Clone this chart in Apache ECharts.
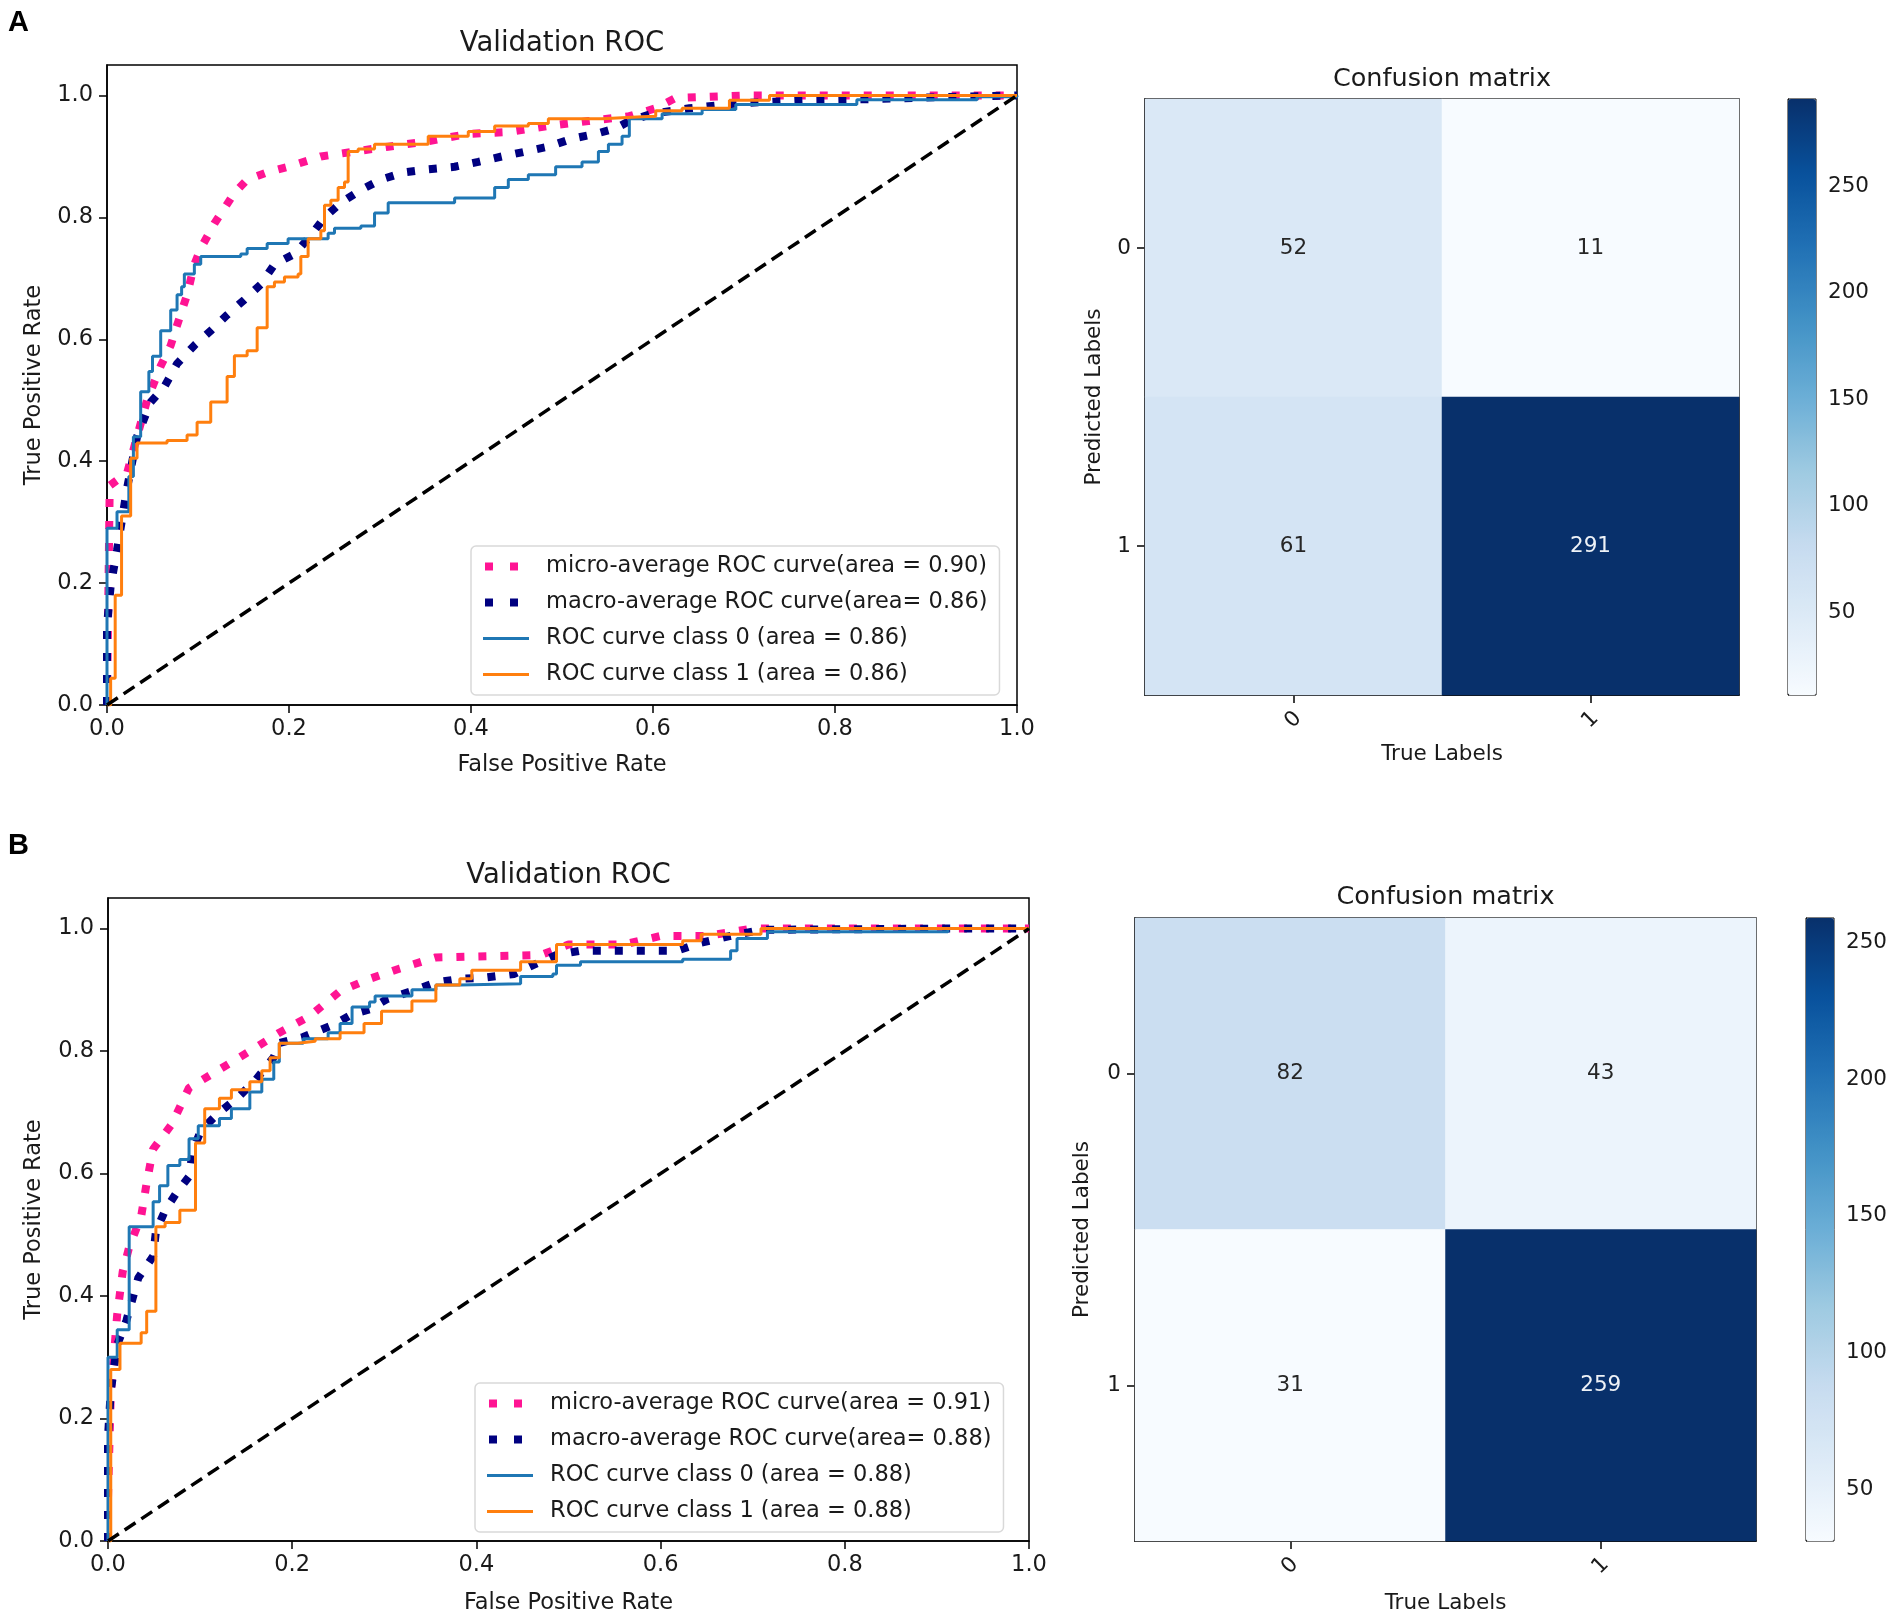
<!DOCTYPE html>
<html>
<head>
<meta charset="utf-8">
<script src="https://cdn.jsdelivr.net/npm/echarts@6/dist/echarts.min.js"></script>
<style>
    html, body { margin: 0; background: #fff; }
    #chart { width: 1902px; height: 1622px; }
</style>
</head>
<body>
<div id="chart"></div>
<script>
// ---- data ----
const fprTicks = [ 0, 0.2, 0.4, 0.6, 0.8, 1.0 ];
const tprTicks = [ 0, 0.2, 0.4, 0.6, 0.8, 1.0 ];
const cmLabels = [ '0', '1' ];

// panel A
const microA_fpr = [ 0, 0.003, 0.012, 0.022, 0.033, 0.044, 0.059, 0.07, 0.077, 0.088, 0.096, 0.103, 0.118, 0.129, 0.14, 0.154, 0.176, 0.199, 0.235, 0.272, 0.309, 0.353, 0.397, 0.441, 0.485, 0.529, 0.574, 0.603, 0.625, 0.7, 1.0 ];
const microA_tpr = [ 0, 0.36, 0.37, 0.38, 0.44, 0.5, 0.556, 0.59, 0.623, 0.673, 0.723, 0.749, 0.79, 0.815, 0.84, 0.862, 0.874, 0.883, 0.9, 0.908, 0.916, 0.925, 0.937, 0.94, 0.95, 0.958, 0.966, 0.979, 0.996, 1.0, 1.0 ];
const macroA_fpr = [ 0, 0, 0.004, 0.011, 0.022, 0.033, 0.048, 0.063, 0.077, 0.096, 0.114, 0.132, 0.151, 0.169, 0.184, 0.206, 0.224, 0.239, 0.257, 0.279, 0.301, 0.327, 0.353, 0.382, 0.408, 0.434, 0.46, 0.485, 0.511, 0.537, 0.559, 0.574, 0.599, 0.64, 0.691, 0.765, 0.838, 0.912, 1.0 ];
const macroA_tpr = [ 0, 0.13, 0.195, 0.254, 0.355, 0.44, 0.497, 0.522, 0.56, 0.59, 0.614, 0.64, 0.665, 0.69, 0.723, 0.74, 0.77, 0.8, 0.824, 0.845, 0.862, 0.874, 0.879, 0.883, 0.891, 0.9, 0.908, 0.916, 0.929, 0.937, 0.946, 0.958, 0.97, 0.979, 0.987, 0.992, 0.994, 0.997, 1.0 ];
const class0A_fpr = [ 0, 0, 0.011, 0.024, 0.029, 0.037, 0.046, 0.05, 0.059, 0.07, 0.077, 0.082, 0.085, 0.096, 0.103, 0.147, 0.154, 0.176, 0.199, 0.243, 0.25, 0.279, 0.294, 0.309, 0.382, 0.426, 0.441, 0.463, 0.493, 0.522, 0.54, 0.551, 0.566, 0.574, 0.61, 0.654, 0.691, 0.824, 0.956, 1.0 ];
const class0A_tpr = [ 0, 0.29, 0.317, 0.375, 0.44, 0.514, 0.547, 0.572, 0.614, 0.648, 0.673, 0.686, 0.707, 0.723, 0.736, 0.74, 0.749, 0.757, 0.765, 0.774, 0.782, 0.786, 0.807, 0.824, 0.832, 0.849, 0.862, 0.87, 0.883, 0.891, 0.908, 0.92, 0.933, 0.962, 0.97, 0.977, 0.985, 0.993, 0.998, 1.0 ];
const class1A_fpr = [ 0, 0.004, 0.009, 0.016, 0.026, 0.033, 0.066, 0.088, 0.099, 0.114, 0.132, 0.14, 0.154, 0.165, 0.176, 0.184, 0.195, 0.21, 0.213, 0.221, 0.235, 0.239, 0.246, 0.254, 0.261, 0.265, 0.276, 0.294, 0.353, 0.397, 0.426, 0.463, 0.485, 0.544, 0.588, 0.603, 0.632, 0.684, 0.728, 1.0 ];
const class1A_tpr = [ 0, 0.044, 0.18, 0.31, 0.405, 0.43, 0.434, 0.443, 0.464, 0.497, 0.539, 0.573, 0.581, 0.619, 0.686, 0.694, 0.702, 0.707, 0.736, 0.765, 0.778, 0.82, 0.828, 0.849, 0.858, 0.908, 0.912, 0.92, 0.933, 0.941, 0.95, 0.954, 0.962, 0.965, 0.966, 0.975, 0.979, 0.992, 1.0, 1.0 ];
const namesA = [
    'micro-average ROC curve(area = 0.90)',
    'macro-average ROC curve(area= 0.86)',
    'ROC curve class 0 (area = 0.86)',
    'ROC curve class 1 (area = 0.86)',
];
const cmA = [ [ 52, 11 ], [ 61, 291 ] ];
const cbTicksA = [ 50, 100, 150, 200, 250 ];

// panel B
const microB_fpr = [ 0, 0, 0.003, 0.01, 0.016, 0.023, 0.036, 0.042, 0.049, 0.069, 0.088, 0.121, 0.154, 0.186, 0.219, 0.252, 0.284, 0.317, 0.356, 0.47, 0.5, 0.56, 0.6, 0.65, 0.7, 1.0 ];
const microB_tpr = [ 0, 0.07, 0.24, 0.37, 0.44, 0.48, 0.53, 0.585, 0.64, 0.68, 0.74, 0.77, 0.8, 0.83, 0.857, 0.898, 0.918, 0.935, 0.953, 0.957, 0.974, 0.974, 0.988, 0.988, 1.0, 1.0 ];
const macroB_fpr = [ 0, 0, 0.003, 0.01, 0.02, 0.033, 0.049, 0.052, 0.062, 0.075, 0.088, 0.092, 0.101, 0.121, 0.14, 0.16, 0.18, 0.186, 0.212, 0.245, 0.265, 0.284, 0.303, 0.33, 0.356, 0.382, 0.408, 0.441, 0.461, 0.487, 0.513, 0.618, 0.644, 0.676, 0.709, 0.905, 1.0 ];
const macroB_tpr = [ 0, 0.17, 0.245, 0.32, 0.36, 0.43, 0.465, 0.505, 0.54, 0.57, 0.595, 0.637, 0.671, 0.7, 0.723, 0.752, 0.79, 0.813, 0.823, 0.843, 0.86, 0.868, 0.885, 0.898, 0.912, 0.918, 0.92, 0.926, 0.94, 0.957, 0.964, 0.964, 0.977, 0.988, 0.998, 1.0, 1.0 ];
const class0B_fpr = [ 0, 0, 0.01, 0.023, 0.049, 0.056, 0.065, 0.078, 0.088, 0.098, 0.121, 0.134, 0.154, 0.167, 0.18, 0.186, 0.212, 0.239, 0.252, 0.265, 0.284, 0.29, 0.33, 0.356, 0.382, 0.448, 0.483, 0.487, 0.513, 0.624, 0.676, 0.683, 0.716, 0.912, 1.0 ];
const class0B_tpr = [ 0, 0.3, 0.345, 0.513, 0.554, 0.58, 0.613, 0.623, 0.657, 0.678, 0.69, 0.706, 0.733, 0.754, 0.782, 0.813, 0.82, 0.83, 0.845, 0.872, 0.88, 0.89, 0.9, 0.908, 0.91, 0.922, 0.926, 0.94, 0.946, 0.95, 0.964, 0.984, 0.995, 1.0, 1.0 ];
const class1B_fpr = [ 0, 0.003, 0.013, 0.036, 0.042, 0.052, 0.062, 0.078, 0.095, 0.105, 0.121, 0.134, 0.154, 0.167, 0.176, 0.186, 0.206, 0.225, 0.252, 0.278, 0.297, 0.33, 0.356, 0.382, 0.395, 0.448, 0.487, 0.624, 0.644, 0.709, 1.0 ];
const class1B_tpr = [ 0, 0.28, 0.323, 0.34, 0.375, 0.513, 0.52, 0.54, 0.65, 0.706, 0.723, 0.737, 0.75, 0.768, 0.789, 0.813, 0.816, 0.82, 0.83, 0.845, 0.865, 0.882, 0.908, 0.918, 0.932, 0.946, 0.974, 0.98, 0.991, 1.0, 1.0 ];
const namesB = [
    'micro-average ROC curve(area = 0.91)',
    'macro-average ROC curve(area= 0.88)',
    'ROC curve class 0 (area = 0.88)',
    'ROC curve class 1 (area = 0.88)',
];
const cmB = [ [ 82, 43 ], [ 31, 259 ] ];
const cbTicksB = [ 50, 100, 150, 200, 250 ];

// ---- styling ----
const FONT = 'DejaVu Sans';
const TXT = '#1a1a1a';
const BLUES = [ '#f7fbff', '#deebf7', '#c6dbef', '#9ecae1', '#6baed6', '#4292c6', '#2171b5', '#08519c', '#08306b' ];
const lineColors = [ '#ff1493', '#000080', '#1f77b4', '#ff7f0e' ];
const dotted = { width: 8, type: [ 8, 14 ], cap: 'butt' };
const dottedIcon = { width: 8, type: [ 8, 17 ], dashOffset: -2, cap: 'butt' };
const solid = { width: 3, type: 'solid' };
const ROC_FS = 22.5;
const CM_FS = 21.5;

const zip = ( xs, ys ) => xs.map( ( x, i ) => [ x, ys[ i ] ] );

const panels = [
    {
        label: 'A', labelTop: 8,
        roc: { left: 107, top: 65, width: 910, height: 640 },
        rocTitleTop: 30, rocNameGapX: 49, rocNameGapY: 61,
        legend: { left: 471, top: 546 },
        cm: { left: 1145, top: 99, width: 594, height: 596 },
        cmTitleTop: 66, cmNameGapX: 48, cmNameGapY: 40,
        cb: { left: 1788, top: 99, width: 28, height: 596 },
        curves: [ [ microA_fpr, microA_tpr ], [ macroA_fpr, macroA_tpr ], [ class0A_fpr, class0A_tpr ], [ class1A_fpr, class1A_tpr ] ],
        names: namesA, matrix: cmA, cbTicks: cbTicksA,
    },
    {
        label: 'B', labelTop: 831,
        roc: { left: 108, top: 898, width: 921, height: 643 },
        rocTitleTop: 862, rocNameGapX: 51, rocNameGapY: 62,
        legend: { left: 475, top: 1383 },
        cm: { left: 1135, top: 918, width: 621, height: 623 },
        cmTitleTop: 884, cmNameGapX: 51, cmNameGapY: 42,
        cb: { left: 1806, top: 918, width: 28, height: 623 },
        curves: [ [ microB_fpr, microB_tpr ], [ macroB_fpr, macroB_tpr ], [ class0B_fpr, class0B_tpr ], [ class1B_fpr, class1B_tpr ] ],
        names: namesB, matrix: cmB, cbTicks: cbTicksB,
    },
];

const option = {
    backgroundColor: '#fff',
    animation: false,
    title: [],
    grid: [],
    xAxis: [],
    yAxis: [],
    legend: [],
    visualMap: [],
    series: [],
};

const axisBase = ( fs ) => ( {
    axisLine: { show: true, onZero: false, lineStyle: { color: '#000', width: 1.5 } },
    axisTick: { show: true, length: 8, lineStyle: { color: '#000', width: 1.5 } },
    axisLabel: { color: TXT, fontSize: fs, fontFamily: FONT },
    splitLine: { show: false },
    nameTextStyle: { color: TXT, fontSize: fs, fontFamily: FONT },
} );
const rocBase = axisBase( ROC_FS );
const cmBase = axisBase( CM_FS );

panels.forEach( ( p ) => {
    const g = option.grid.length;
    const gridStyle = { show: true, borderColor: '#000', borderWidth: 1.5, containLabel: false };
    option.grid.push( Object.assign( {}, p.roc, gridStyle ) );
    option.grid.push( Object.assign( {}, p.cm, gridStyle ) );
    option.grid.push( Object.assign( {}, p.cb, gridStyle, { borderWidth: 1 } ) );

    // titles
    option.title.push( {
        text: p.label, left: 8, top: p.labelTop, padding: 0,
        textStyle: { fontSize: 29, fontWeight: 'bold', fontFamily: 'Liberation Sans', color: '#000' },
    } );
    option.title.push( {
        text: 'Validation ROC', left: p.roc.left + p.roc.width / 2, top: p.rocTitleTop, padding: 0,
        textAlign: 'center',
        textStyle: { fontSize: 27.5, fontWeight: 'normal', fontFamily: FONT, color: TXT },
    } );
    option.title.push( {
        text: 'Confusion matrix', left: p.cm.left + p.cm.width / 2, top: p.cmTitleTop, padding: 0,
        textAlign: 'center',
        textStyle: { fontSize: 25.5, fontWeight: 'normal', fontFamily: FONT, color: TXT },
    } );

    // ROC axes
    option.xAxis.push( Object.assign( {}, rocBase, {
        gridIndex: g, type: 'value', min: 0, max: 1, interval: 0.2,
        name: 'False Positive Rate', nameLocation: 'middle', nameGap: p.rocNameGapX,
        axisLabel: Object.assign( {}, rocBase.axisLabel, { margin: 13, formatter: ( v ) => v.toFixed( 1 ), customValues: fprTicks } ),
        axisTick: Object.assign( {}, rocBase.axisTick, { customValues: fprTicks } ),
    } ) );
    option.yAxis.push( Object.assign( {}, rocBase, {
        gridIndex: g, type: 'value', min: 0, max: 1.05,
        name: 'True Positive Rate', nameLocation: 'middle', nameGap: p.rocNameGapY,
        axisLabel: Object.assign( {}, rocBase.axisLabel, { margin: 14, formatter: ( v ) => v.toFixed( 1 ), customValues: tprTicks } ),
        axisTick: Object.assign( {}, rocBase.axisTick, { customValues: tprTicks } ),
    } ) );

    // confusion matrix axes
    option.xAxis.push( Object.assign( {}, cmBase, {
        gridIndex: g + 1, type: 'category', data: cmLabels, position: 'bottom',
        name: 'True Labels', nameLocation: 'middle', nameGap: p.cmNameGapX,
        axisTick: Object.assign( {}, cmBase.axisTick, { alignWithLabel: true } ),
        axisLabel: Object.assign( {}, cmBase.axisLabel, { rotate: 45, margin: 25, align: 'center', verticalAlign: 'middle' } ),
    } ) );
    option.yAxis.push( Object.assign( {}, cmBase, {
        gridIndex: g + 1, type: 'category', data: cmLabels, inverse: true,
        name: 'Predicted Labels', nameLocation: 'middle', nameGap: p.cmNameGapY,
        axisTick: Object.assign( {}, cmBase.axisTick, { alignWithLabel: true } ),
        axisLabel: Object.assign( {}, cmBase.axisLabel, { margin: 14 } ),
    } ) );

    // colorbar axes
    const flat = p.matrix.flat();
    const vmin = Math.min( ...flat );
    const vmax = Math.max( ...flat );
    option.xAxis.push( { gridIndex: g + 2, type: 'value', show: false, min: 0, max: 1 } );
    option.yAxis.push( Object.assign( {}, cmBase, {
        gridIndex: g + 2, type: 'value', min: vmin, max: vmax, position: 'right',
        axisLine: { show: true, lineStyle: { color: '#000', width: 1 } },
        axisLabel: Object.assign( {}, cmBase.axisLabel, { margin: 12, customValues: p.cbTicks } ),
        axisTick: Object.assign( {}, cmBase.axisTick, { customValues: p.cbTicks } ),
    } ) );

    // ROC series
    p.curves.forEach( ( c, i ) => {
        option.series.push( {
            type: 'line', name: p.names[ i ],
            xAxisIndex: g, yAxisIndex: g,
            data: zip( c[ 0 ], c[ 1 ] ),
            step: i >= 2 ? 'end' : false,
            symbol: 'none', clip: true,
            lineStyle: Object.assign( { color: lineColors[ i ] }, i < 2 ? dotted : solid ),
            itemStyle: { color: lineColors[ i ] },
        } );
    } );
    option.series.push( {
        type: 'line', name: 'chance',
        xAxisIndex: g, yAxisIndex: g,
        data: [ [ 0, 0 ], [ 1, 1 ] ],
        symbol: 'none',
        lineStyle: { color: '#000', width: 3.5, type: [ 13, 7 ] },
    } );

    option.legend.push( {
        left: p.legend.left, top: p.legend.top, orient: 'vertical',
        padding: [ 9, 12, 9, 8 ], itemGap: 13, itemWidth: 46, itemHeight: 14,
        backgroundColor: 'rgba(255,255,255,0.8)', borderColor: '#d9d9d9', borderWidth: 1.5, borderRadius: 5,
        textStyle: { color: TXT, fontSize: ROC_FS, fontFamily: FONT, padding: [ 0, 0, 0, 12 ] },
        data: p.names.map( ( n, i ) => ( {
            name: n,
            lineStyle: Object.assign( { color: lineColors[ i ] }, i < 2 ? dottedIcon : solid ),
            itemStyle: { color: 'rgba(0,0,0,0)', borderWidth: 0, opacity: 0 },
        } ) ),
    } );

    // heatmap
    const heatIndex = option.series.length;
    const cells = [];
    p.matrix.forEach( ( row, r ) => {
        row.forEach( ( v, c ) => {
            cells.push( {
                value: [ c, r, v ],
                label: { color: v > ( vmin + vmax ) / 2 ? '#eef2f7' : '#262626' },
            } );
        } );
    } );
    option.series.push( {
        type: 'heatmap',
        xAxisIndex: g + 1, yAxisIndex: g + 1,
        data: cells,
        label: { show: true, fontSize: CM_FS, fontFamily: FONT },
        itemStyle: { borderWidth: 0 },
        emphasis: { disabled: true },
    } );
    option.visualMap.push( {
        type: 'continuous', seriesIndex: heatIndex,
        min: vmin, max: vmax,
        left: p.cb.left, top: p.cb.top,
        itemWidth: p.cb.width, itemHeight: p.cb.height,
        padding: 0, calculable: false, show: true,
        inRange: { color: BLUES },
    } );
} );

const chart = echarts.init( document.getElementById( 'chart' ) );
chart.setOption( option );
window.addEventListener( 'resize', () => chart.resize() );
</script>
</body>
</html>
